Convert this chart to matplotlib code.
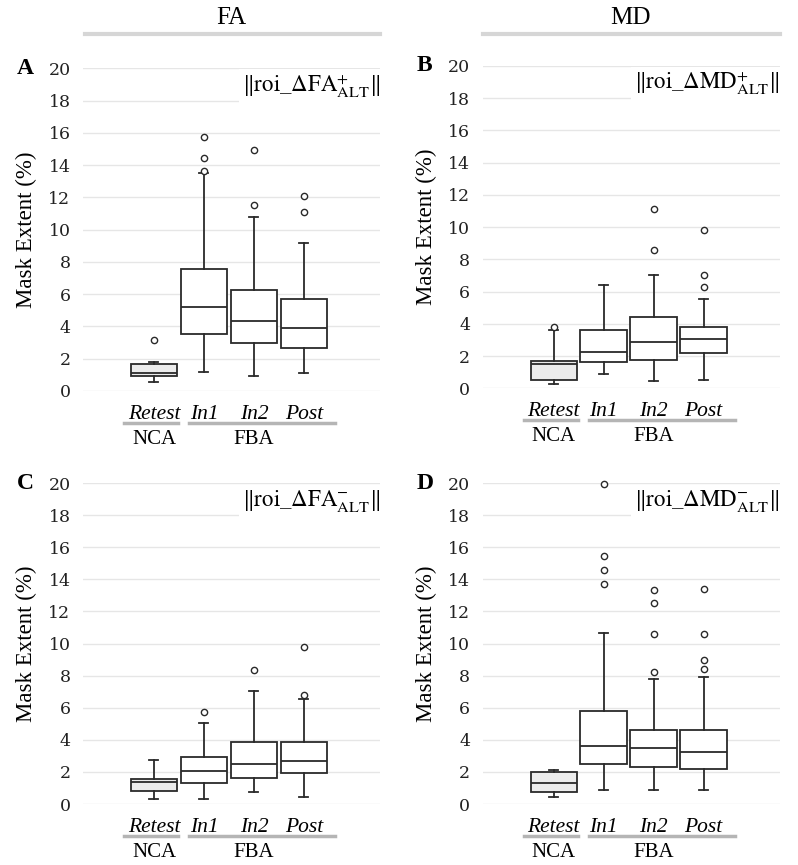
import matplotlib
matplotlib.use('Agg')
import matplotlib.pyplot as plt

plt.rcParams['font.family'] = ['Liberation Serif', 'DejaVu Serif']
plt.rcParams['mathtext.fontset'] = 'stix'

groups = ['Retest', 'In1', 'In2', 'Post']

# panel A: ||roi_dFA+||
a_med = [1.12, 5.19, 4.34, 3.90]
a_q1 = [0.91, 3.53, 3.00, 2.69]
a_q3 = [1.69, 7.56, 6.26, 5.70]
a_lo = [0.56, 1.18, 0.91, 1.14]
a_hi = [1.80, 13.53, 10.76, 9.19]
a_fl = [[3.14], [15.76, 14.42, 13.64], [14.94, 11.51], [12.11, 11.12]]

# panel B: ||roi_dMD+||
b_med = [1.51, 2.28, 2.85, 3.08]
b_q1 = [0.52, 1.65, 1.76, 2.17]
b_q3 = [1.72, 3.60, 4.43, 3.83]
b_lo = [0.25, 0.87, 0.46, 0.52]
b_hi = [3.62, 6.43, 7.03, 5.54]
b_fl = [[3.78], [], [11.15, 8.60], [9.80, 7.05, 6.29]]

# panel C: ||roi_dFA-||
c_med = [1.39, 2.08, 2.47, 2.68]
c_q1 = [0.81, 1.33, 1.62, 1.91]
c_q3 = [1.54, 2.91, 3.87, 3.87]
c_lo = [0.29, 0.29, 0.75, 0.42]
c_hi = [2.74, 5.05, 7.05, 6.57]
c_fl = [[], [5.76], [8.36], [9.81, 6.80]]

# panel D: ||roi_dMD-||
d_med = [1.29, 3.63, 3.51, 3.22]
d_q1 = [0.75, 2.47, 2.30, 2.16]
d_q3 = [1.97, 5.81, 4.61, 4.61]
d_lo = [0.41, 0.87, 0.87, 0.87]
d_hi = [2.12, 10.66, 7.82, 7.93]
d_fl = [[], [19.92, 15.46, 14.56, 13.69], [13.32, 12.55, 10.60, 8.22], [13.38, 10.60, 8.96, 8.42]]

panels = [
    ('A', r'$\Vert\mathrm{roi\_}\Delta\mathrm{FA}^{+}_{\mathrm{ALT}}\Vert$', a_med, a_q1, a_q3, a_lo, a_hi, a_fl),
    ('B', r'$\Vert\mathrm{roi\_}\Delta\mathrm{MD}^{+}_{\mathrm{ALT}}\Vert$', b_med, b_q1, b_q3, b_lo, b_hi, b_fl),
    ('C', r'$\Vert\mathrm{roi\_}\Delta\mathrm{FA}^{-}_{\mathrm{ALT}}\Vert$', c_med, c_q1, c_q3, c_lo, c_hi, c_fl),
    ('D', r'$\Vert\mathrm{roi\_}\Delta\mathrm{MD}^{-}_{\mathrm{ALT}}\Vert$', d_med, d_q1, d_q3, d_lo, d_hi, d_fl),
]

rects = [[0.104, 0.548, 0.372, 0.373],
         [0.605, 0.551, 0.372, 0.373],
         [0.104, 0.0705, 0.372, 0.371],
         [0.605, 0.0705, 0.372, 0.371]]

fig = plt.figure(figsize=(7.98, 8.65), dpi=100)
ink = '#2a2a2a'
pos = [1, 2, 3, 4]

for (letter, title, med, q1, q3, lo, hi, fl), r in zip(panels, rects):
    ax = fig.add_axes(r)
    stats = []
    for i in range(4):
        stats.append(dict(med=med[i], q1=q1[i], q3=q3[i], whislo=lo[i], whishi=hi[i], fliers=fl[i]))
    bp = ax.bxp(stats, positions=pos, widths=0.93, patch_artist=True,
                boxprops=dict(edgecolor=ink, linewidth=1.3),
                medianprops=dict(color=ink, linewidth=1.3),
                whiskerprops=dict(color=ink, linewidth=1.3),
                capprops=dict(color=ink, linewidth=1.3),
                flierprops=dict(marker='o', markersize=4.5, markerfacecolor='white',
                                markeredgecolor=ink, markeredgewidth=1.0),
                capwidths=0.18)
    for k, b in enumerate(bp['boxes']):
        b.set_facecolor('#ececec' if k == 0 else 'white')
    for f in bp['fliers']:
        f.set_clip_on(False)

    ax.set_xlim(-0.42, 5.52)
    ax.set_ylim(0, 20)
    ax.set_yticks(range(0, 21, 2))
    ax.yaxis.grid(True, color='#e6e6e6', linewidth=1.0)
    ax.set_axisbelow(True)
    for s in ax.spines.values():
        s.set_visible(False)
    ax.tick_params(axis='y', length=0, pad=9, labelcolor='#222222')
    for t in ax.get_yticklabels():
        t.set_fontfamily('DejaVu Serif')
        t.set_fontsize(12.5)
    ax.tick_params(axis='x', length=0, labelsize=15.5, pad=10)
    ax.set_xticks(pos)
    ax.set_xticklabels(groups, style='italic')
    ax.set_ylabel('Mask Extent (%)', fontsize=16.5)
    ax.yaxis.set_label_coords(-0.155, 0.5)

    tr = ax.get_xaxis_transform()
    ax.plot([0.4, 1.48], [-0.099, -0.099], transform=tr, color='#b5b5b5', lw=2.5, clip_on=False)
    ax.plot([1.7, 4.62], [-0.099, -0.099], transform=tr, color='#b5b5b5', lw=2.5, clip_on=False)
    ax.text(1.0, -0.15, 'NCA', transform=tr, ha='center', va='center', fontsize=15)
    ax.text(3.0, -0.15, 'FBA', transform=tr, ha='center', va='center', fontsize=15)

    ax.text(1.0, 0.945, title, transform=ax.transAxes, ha='right', va='center', fontsize=16.5,
            bbox=dict(facecolor='white', edgecolor='none', pad=2))
    ax.text(-0.195, 1.0, letter, transform=ax.transAxes, ha='center', va='center',
            fontsize=17, fontweight='bold')

# column headers
fig.text(0.29, 1 - 18 / 865, 'FA', ha='center', va='center', fontsize=18)
fig.text(0.79, 1 - 18 / 865, 'MD', ha='center', va='center', fontsize=18)
fig.add_artist(plt.Line2D([85 / 798, 380 / 798], [1 - 34 / 865] * 2, color='#d6d6d6', lw=3))
fig.add_artist(plt.Line2D([483 / 798, 780 / 798], [1 - 34 / 865] * 2, color='#d6d6d6', lw=3))

fig.savefig('out.png', dpi=100)
